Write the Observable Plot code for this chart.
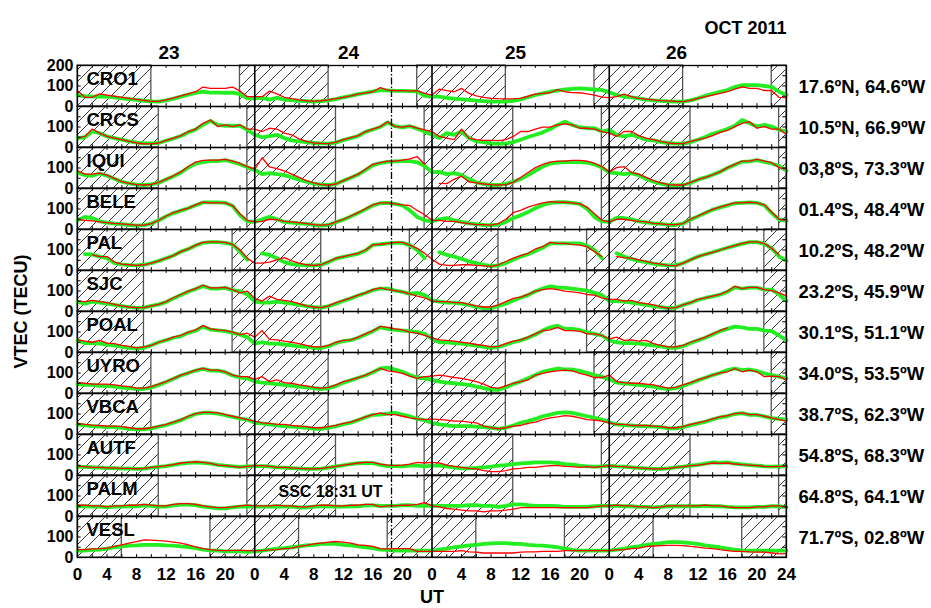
<!DOCTYPE html>
<html><head><meta charset="utf-8">
<script src="https://cdn.jsdelivr.net/npm/d3@7"></script>
<script src="https://cdn.jsdelivr.net/npm/@observablehq/plot@0.6"></script>
<style>body{margin:0;background:#fff} svg{display:block}</style>
</head><body><div id="chart"></div>
<script>
const stations = ["CRO1","CRCS","IQUI","BELE","PAL","SJC","POAL","UYRO","VBCA","AUTF","PALM","VESL"];
const locations = ["17.6ºN, 64.6ºW","10.5ºN, 66.9ºW","03,8ºS, 73.3ºW","01.4ºS, 48.4ºW","10.2ºS, 48.2ºW","23.2ºS, 45.9ºW","30.1ºS, 51.1ºW","34.0ºS, 53.5ºW","38.7ºS, 62.3ºW","54.8ºS, 68.3ºW","64.8ºS, 64.1ºW","71.7ºS, 02.8ºW"];
const nightStart = [22,23,23,23,21,21,21,22,22,23,23,18];
const nightEnd   = [10,11,11,11, 9, 9, 9,10,10,11,11, 6];
const days = ["23","24","25","26"];
const dayLabelAt = [12.4, 36.7, 59.3, 81.1];
const monthLabel = "OCT 2011";
const sscHour = 24 + 18 + 31/60;
const sscLabel = "SSC 18:31 UT";
const yTickLabels = [0, 100];
const yTopLabel = 200;
const xLabelHours = [0,4,8,12,16,20,24,28,32,36,40,44,48,52,56,60,64,68,72,76,80,84,88,92,96];
const hours = Array.from({length: 97}, (_, i) => i);
const _ = null;

const red_CRO1 = [77,45,45,62,55,50,45,40,35,30,25,25,32,42,52,62,72,95,88,88,88,95,75,48,
 48,48,75,62,45,38,32,28,26,28,32,38,45,52,60,66,72,92,80,78,77,76,77,64,
 56,85,77,72,88,64,52,45,40,38,37,38,40,50,60,64,67,82,72,68,67,62,56,46,
 43,48,60,48,40,36,32,29,27,25,24,30,40,48,56,64,72,85,96,88,88,78,77,45,43];
const green_CRO1 = [55,50,48,50,48,44,40,36,32,28,25,24,30,38,48,58,66,72,68,68,66,68,60,40,
 40,42,34,42,34,31,28,26,24,26,30,36,45,52,60,66,74,80,78,76,76,75,74,52,
 48,48,42,38,35,32,29,26,24,24,24,28,35,45,56,64,72,78,83,86,88,86,83,80,
 70,56,48,44,40,34,30,27,25,24,24,30,40,52,62,72,80,95,104,104,104,100,96,72,56];

const red_CRCS = [46,54,90,70,54,46,38,30,22,18,18,22,35,46,58,78,90,118,134,102,110,102,110,90,
 90,78,94,90,70,62,42,30,22,20,19,26,38,48,58,78,90,102,126,102,99,106,94,86,
 78,54,46,38,90,46,38,35,35,34,38,54,78,78,90,99,99,110,115,110,94,94,90,78,
 70,54,78,78,58,46,38,30,22,19,19,30,38,46,58,74,83,102,118,126,94,102,90,90,62];
const green_CRCS = [46,50,78,70,54,46,38,30,24,20,20,22,33,44,56,74,88,110,130,110,106,106,106,86,
 62,50,56,62,46,35,30,26,22,20,19,24,36,46,56,76,88,100,122,104,98,104,92,78,
 62,46,70,62,78,46,30,26,19,19,19,26,38,51,62,74,90,110,126,110,99,94,94,78,
 86,62,54,62,51,38,35,26,22,19,19,26,38,51,67,78,90,106,134,118,102,110,102,86,78];

const red_IQUI = [86,70,70,75,65,49,33,25,19,17,20,30,46,62,81,107,129,137,138,138,142,134,122,107,
 94,150,105,97,86,70,54,38,27,19,17,22,38,54,70,94,118,126,134,134,138,145,155,118,
 _,25,24,45,60,33,27,22,19,17,19,30,54,78,102,118,129,134,134,137,137,134,122,107,
 81,102,107,78,70,54,38,27,19,17,17,30,43,54,67,81,102,118,134,134,142,134,126,102,94];
const green_IQUI = [78,65,62,73,62,48,33,25,19,17,20,28,44,60,78,102,122,129,134,134,138,130,118,104,
 91,70,75,70,65,54,43,33,24,19,17,22,38,52,68,90,114,124,130,132,134,134,128,110,
 80,81,70,75,65,46,30,22,17,17,22,33,46,65,86,107,122,126,129,129,129,126,118,102,
 78,75,70,75,65,46,33,24,17,15,17,27,43,54,67,81,100,116,130,132,138,130,122,110,86];

const red_BELE = [50,45,42,37,34,30,27,24,21,21,29,45,66,82,93,104,120,133,130,130,130,117,77,45,
 37,40,50,48,40,37,34,29,24,21,24,37,50,66,82,101,120,130,130,125,120,117,93,72,
 45,45,40,40,34,29,24,24,21,29,50,82,93,109,120,130,136,133,133,130,125,109,77,45,
 37,50,50,45,40,37,30,27,24,24,29,50,66,82,98,109,120,130,130,133,130,120,85,50,45];
const green_BELE = [45,61,56,40,34,29,26,22,19,21,29,45,64,80,92,104,118,132,132,132,130,115,69,40,
 37,50,62,50,37,34,30,27,22,19,22,35,48,64,80,98,118,128,130,125,117,93,61,45,
 40,50,56,45,37,30,26,22,21,24,37,56,69,85,104,120,130,133,133,130,125,101,61,40,
 37,56,56,50,40,35,30,27,22,22,29,48,64,80,96,108,118,128,130,132,130,118,80,48,42];

const red_PAL = [_,_,76,68,68,41,31,28,25,28,36,47,60,73,92,105,124,137,140,140,137,127,100,60,
 36,36,41,52,63,47,36,28,25,28,44,60,68,76,84,100,125,128,132,137,137,124,108,84,
 55,31,25,25,28,28,25,23,20,28,44,60,73,84,105,116,137,132,132,127,124,116,92,68,
 _,68,63,60,52,44,36,31,25,23,36,52,68,79,89,100,111,121,132,140,140,132,108,76,_];
const green_PAL = [_,80,78,68,60,36,30,26,25,28,36,47,60,73,92,105,122,135,138,138,135,127,92,52,
 _,84,76,60,41,31,28,25,25,28,41,58,66,74,82,98,125,128,132,135,135,124,100,60,
 _,89,76,68,57,44,36,28,22,25,36,52,68,79,95,111,132,132,132,132,132,121,100,60,
 _,84,68,57,47,41,34,28,25,25,36,52,68,79,89,100,111,121,130,138,138,130,108,68,47];

const red_SJC = [51,48,54,48,43,35,27,22,19,19,27,35,48,67,83,99,112,128,115,115,118,107,91,99,
 64,51,75,59,54,48,38,27,22,19,27,43,54,67,80,91,107,115,107,102,96,86,75,67,
 51,48,48,43,43,35,27,22,22,32,48,64,70,83,99,107,112,107,99,96,91,83,80,67,
 59,59,51,54,43,38,32,22,16,19,32,43,59,67,75,83,99,123,112,118,118,107,102,91,75];
const green_SJC = [48,38,48,43,38,32,26,21,18,19,27,35,46,64,80,96,110,124,112,112,115,104,99,83,
 48,43,43,48,43,38,32,26,21,19,26,38,52,64,78,90,104,112,112,102,96,86,91,80,
 54,48,43,43,38,32,22,16,16,27,38,54,67,80,99,112,123,118,115,112,107,102,91,80,
 51,51,48,43,38,32,26,21,16,19,32,43,56,66,74,82,96,118,112,116,116,107,107,83,51];

const red_POAL = [62,55,50,59,46,43,35,30,23,27,35,50,62,75,83,99,110,131,115,110,107,99,87,94,
 75,107,64,62,55,50,43,35,27,27,35,50,59,62,75,91,107,127,123,115,110,99,94,83,
 71,62,59,55,50,46,39,35,27,30,43,55,62,75,91,107,110,123,107,107,104,91,91,83,
 67,75,59,62,55,59,43,35,27,27,35,50,62,75,91,107,120,_,_,_,_,_,_,_,_];
const green_POAL = [59,46,46,43,39,35,27,23,19,23,35,50,60,72,80,96,106,126,112,108,104,96,87,75,
 43,50,43,43,39,35,30,27,22,22,31,46,56,60,72,88,104,123,115,110,107,104,99,91,
 67,50,50,46,43,39,33,27,22,27,38,50,59,72,88,107,123,131,115,115,110,99,91,83,
 59,50,46,46,43,39,35,30,23,23,31,46,59,72,88,104,115,126,123,115,115,107,104,83,59];

const red_UYRO = [53,50,46,46,46,42,37,34,26,26,34,46,58,74,90,101,114,122,114,114,106,90,82,82,
 69,82,58,66,53,50,42,37,30,26,30,42,58,66,78,90,106,122,110,106,98,85,74,82,
 85,90,85,78,74,66,58,46,30,26,37,50,58,66,90,98,106,110,114,110,98,90,78,78,
 90,58,53,50,50,46,42,34,26,30,42,53,66,78,90,101,106,122,106,114,106,82,85,82,66];
const green_UYRO = [46,42,42,37,37,34,29,26,21,22,30,42,56,72,88,100,112,120,112,112,104,88,78,74,
 58,53,50,46,42,37,34,30,26,22,26,37,53,64,77,88,104,122,126,117,106,90,78,74,
 66,58,53,50,46,42,34,26,18,18,30,46,58,74,90,106,114,122,117,117,110,101,90,82,
 69,53,50,46,42,37,34,26,21,26,37,50,64,77,90,100,114,122,114,117,110,98,90,82,74];

const red_VBCA = [54,49,46,44,41,41,38,33,28,28,33,41,49,60,73,89,102,108,108,105,97,89,81,73,
 65,57,54,49,49,44,41,38,33,33,38,44,54,60,73,86,97,105,97,97,89,81,76,73,
 76,73,70,65,65,60,57,41,33,28,33,41,44,54,60,73,81,86,92,89,81,73,70,65,
 57,49,49,44,44,44,41,38,33,33,38,49,57,65,76,86,92,102,105,97,97,89,81,73,65];
const green_VBCA = [49,44,41,38,36,36,33,28,25,25,30,38,46,58,70,86,100,106,106,102,94,86,78,73,
 57,54,49,44,41,38,36,33,28,28,33,41,50,58,70,84,96,97,102,105,97,89,76,70,
 57,49,44,41,41,41,38,36,33,28,33,44,57,65,76,89,97,105,108,105,97,89,81,73,
 60,49,46,44,41,41,38,36,30,30,36,46,54,62,74,84,90,100,104,96,96,88,80,76,73];

const red_AUTF = [45,43,40,40,37,37,35,35,32,35,40,43,48,53,61,64,67,64,59,51,48,45,40,45,
 48,48,45,40,40,37,35,32,32,35,40,45,51,56,61,64,64,56,51,48,51,56,64,61,
 64,61,51,45,40,35,32,24,19,19,24,32,35,40,40,45,48,48,45,43,40,43,40,45,
 48,45,43,40,37,35,32,32,35,40,43,48,51,56,61,59,61,56,53,51,48,45,43,45,45];
const green_AUTF = [42,42,40,38,36,36,34,34,32,34,38,42,46,52,58,62,64,62,58,52,48,45,42,45,
 46,46,44,40,38,36,34,32,32,34,38,44,50,56,60,62,60,52,46,46,45,48,48,45,
 48,48,45,40,35,35,37,40,43,48,51,56,59,61,64,64,64,61,56,53,48,45,43,45,
 48,45,43,40,37,35,32,32,35,40,43,48,52,58,64,62,64,58,54,51,48,45,43,45,45];

const red_PALM = [55,55,52,52,47,52,52,55,55,59,55,52,52,59,63,63,59,52,47,43,43,47,52,55,
 52,52,52,55,52,52,47,47,52,55,55,52,52,55,55,59,59,47,52,52,55,55,59,68,
 52,47,39,36,31,27,27,23,27,27,31,36,43,43,43,43,43,43,43,43,43,43,47,52,
 52,55,52,52,47,47,43,47,52,52,52,52,52,55,52,52,47,43,43,43,47,47,52,52,43];
const green_PALM = [50,50,48,48,45,48,48,50,50,54,52,48,48,54,58,58,55,48,44,40,40,44,48,50,
 48,48,48,50,48,48,44,44,48,50,50,48,48,50,50,54,54,52,52,52,55,55,52,52,
 52,52,52,52,52,55,55,52,52,47,52,59,59,55,52,52,52,50,47,47,47,47,50,52,
 52,52,50,50,47,47,45,47,50,50,50,50,50,52,50,50,47,45,45,45,47,47,50,50,45];

const red_VESL = [38,38,42,43,46,54,62,70,78,86,85,82,80,75,70,62,52,43,38,35,34,35,35,34,
 34,34,37,38,43,46,54,59,66,70,75,78,75,70,62,59,54,43,42,43,43,43,30,30,
 30,30,30,30,34,27,26,22,22,22,22,22,26,27,27,30,30,30,34,34,34,34,34,34,
 34,37,38,43,46,53,56,58,59,59,58,54,51,46,43,38,34,30,30,27,26,26,22,18,19];
const green_VESL = [34,34,37,38,43,50,54,58,59,62,62,62,59,58,54,51,46,38,35,34,30,30,30,27,
 30,34,38,43,46,50,54,59,62,66,66,66,62,59,54,50,46,38,37,34,34,34,34,34,
 34,38,43,50,54,59,62,66,69,70,70,67,66,62,59,58,54,50,43,37,34,34,34,34,
 34,38,43,50,54,62,66,70,75,75,74,70,66,59,54,50,43,38,35,34,34,34,34,34,34];

const redSeries = {CRO1: red_CRO1, CRCS: red_CRCS, IQUI: red_IQUI, BELE: red_BELE, PAL: red_PAL, SJC: red_SJC,
  POAL: red_POAL, UYRO: red_UYRO, VBCA: red_VBCA, AUTF: red_AUTF, PALM: red_PALM, VESL: red_VESL};
const greenSeries = {CRO1: green_CRO1, CRCS: green_CRCS, IQUI: green_IQUI, BELE: green_BELE, PAL: green_PAL, SJC: green_SJC,
  POAL: green_POAL, UYRO: green_UYRO, VBCA: green_VBCA, AUTF: green_AUTF, PALM: green_PALM, VESL: green_VESL};

const num = v => (v == null ? NaN : v);
const rows = [];
stations.forEach(s => hours.forEach((h, i) => rows.push({station: s, h, red: num(redSeries[s][i]), green: num(greenSeries[s][i])})));

const nightRows = [];
stations.forEach((s, i) => {
  const a = nightStart[i], b = nightEnd[i];
  [[0, b], [a, 24 + b], [24 + a, 48 + b], [48 + a, 72 + b], [72 + a, 96]]
    .forEach(([x1, x2]) => nightRows.push({station: s, x1, x2}));
});

const yLabRows = stations.flatMap(s => yTickLabels.map(v => ({station: s, v})));
yLabRows.push({station: stations[0], v: yTopLabel});

const minorX = hours.filter(h => h % 2 === 0);
const minorY = [50, 100, 150];
const font = "'Liberation Sans', Arial, Helvetica, sans-serif";

const chart = Plot.plot({
  width: 931, height: 608,
  marginLeft: 77, marginRight: 145, marginTop: 62, marginBottom: 48,
  style: {fontFamily: font, fontWeight: "bold", background: "white", color: "black"},
  x: {domain: [0, 96], axis: null},
  y: {domain: [0, 200], axis: null},
  fy: {domain: stations, padding: 0, axis: null},
  marks: [
    Plot.rect(nightRows, {x1: "x1", x2: "x2", y1: () => 0, y2: () => 200, fy: "station",
      fill: "url(#hatch)", stroke: "#555", strokeWidth: 1.3}),
    Plot.line(rows, {x: "h", y: "green", fy: "station", stroke: "#22ee22", strokeWidth: 3.8}),
    Plot.line(rows, {x: "h", y: "red", fy: "station", stroke: "#ff0000", strokeWidth: 1.3}),
    Plot.ruleX([24, 48, 72], {stroke: "black", strokeWidth: 1.6}),
    Plot.ruleX([sscHour], {stroke: "black", strokeWidth: 1.3, strokeDasharray: "7,2,1.5,2"}),
    Plot.ruleX(minorX, {x: d => d, y1: () => 0, y2: () => 14, stroke: "black", strokeWidth: 1}),
    Plot.ruleX(minorX, {x: d => d, y1: () => 186, y2: () => 200, stroke: "black", strokeWidth: 1}),
    Plot.ruleY(minorY, {y: d => d, x1: () => 0, x2: () => 0.5, stroke: "black", strokeWidth: 1}),
    Plot.ruleY(minorY, {y: d => d, x1: () => 95.5, x2: () => 96, stroke: "black", strokeWidth: 1}),
    Plot.frame({stroke: "black", strokeWidth: 1.3}),
    Plot.text(yLabRows, {fy: "station", y: "v", frameAnchor: "left", dx: -4, textAnchor: "end",
      lineAnchor: "middle", text: d => String(d.v), fontSize: 16, fontWeight: "bold"}),
    Plot.text(days, {x: (d, i) => dayLabelAt[i], y: () => 200, fy: () => stations[0], text: d => d,
      lineAnchor: "bottom", dy: -6.5, fontSize: 19, fontWeight: "bold"}),
    Plot.text([monthLabel], {x: () => 96, y: () => 200, fy: () => stations[0], text: d => d,
      textAnchor: "end", lineAnchor: "bottom", dy: -32, fontSize: 18, fontWeight: "bold"}),
    Plot.text(stations, {fy: d => d, frameAnchor: "top-left", dx: 9, dy: 19.5, lineAnchor: "bottom",
      textAnchor: "start", text: d => d, fontSize: 18.5, fontWeight: "bold"}),
    Plot.text(stations, {fy: d => d, frameAnchor: "right", dx: 12, dy: 7, lineAnchor: "bottom",
      textAnchor: "start", text: (d, i) => locations[i], fontSize: 18.5, fontWeight: "bold"}),
    Plot.text(xLabelHours, {x: d => d, y: () => 0, fy: () => stations[11], dy: 22, lineAnchor: "bottom",
      text: d => (d === 96 ? "24" : String(d % 24)), fontSize: 17, fontWeight: "bold"}),
    Plot.text(["UT"], {x: () => 48, y: () => 0, fy: () => stations[11], dy: 45.5, lineAnchor: "bottom",
      text: d => d, fontSize: 18, fontWeight: "bold"}),
    Plot.text(["VTEC (TECU)"], {x: () => -7.65, y: () => 0, fy: () => stations[5], rotate: -90,
      text: d => d, fontSize: 18, fontWeight: "bold", lineAnchor: "middle", textAnchor: "middle"}),
    Plot.text([sscLabel], {x: () => sscHour, y: () => 120, fy: () => stations[10], dx: -9,
      textAnchor: "end", lineAnchor: "middle", text: d => d, fontSize: 16, fontWeight: "bold"})
  ]
});

const svg = chart.tagName.toLowerCase() === "svg" ? chart : chart.querySelector("svg");
const ns = "http://www.w3.org/2000/svg";
const defs = document.createElementNS(ns, "defs");
defs.innerHTML = '<pattern id="hatch" patternUnits="userSpaceOnUse" width="12" height="12">' +
  '<path d="M-3,3 L3,-3 M0,12 L12,0 M9,15 L15,9" stroke="#222" stroke-width="0.9" fill="none"/></pattern>';
svg.insertBefore(defs, svg.firstChild);
document.getElementById("chart").appendChild(chart);
</script>
</body></html>
